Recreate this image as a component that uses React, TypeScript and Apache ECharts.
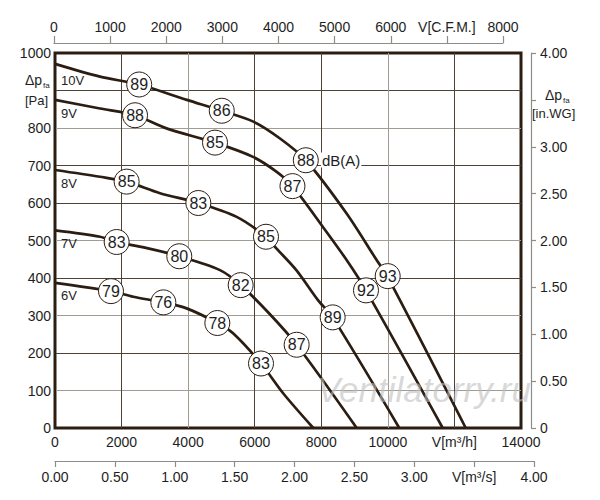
import React, { useEffect, useRef } from 'react';
import * as echarts from 'echarts';

const FONT = '"Liberation Sans", Arial, Helvetica, sans-serif';
const INK = '#2b1d12';
const GRID_DARK = '#4d4136';
const GRID_LIGHT = '#a19b92';
const AXIS_GRAY = '#8f8b86';
const TEXT = '#1e1e1e';

// tick labels (index = tick index)
const flowLabels = ['0', '2000', '4000', '6000', '8000', '10000', 'V[m³/h]', '14000'];
const cfmLabels = ['0', '1000', '2000', '3000', '4000', '5000', '6000', 'V[C.F.M.]', '8000'];
const m3sLabels = ['0.00', '0.50', '1.00', '1.50', '2.00', '2.50', '3.00', 'V[m³/s]', '4.00'];
const paLabels = ['0', '100', '200', '300', '400', '500', '600', '700', '800', '', '1000'];
const inwgLabels = ['0', '0.50', '1.00', '1.50', '2.00', '2.50', '3.00', '', '4.00'];

// fan curves [V m³/h, Δp Pa]
const curve10V = [[0, 971], [1352, 937], [2530, 916], [3960, 875], [5010, 846], [5957, 817], [6760, 772], [7535, 714], [8761, 572], [9662, 448], [9995, 403], [12340, 0]];
const curve9V = [[0, 875], [1352, 852], [2404, 834], [3350, 799], [4807, 761], [5948, 723], [6660, 683], [7134, 645], [8050, 536], [8761, 448], [9343, 367], [11648, 0]];
const curve8V = [[0, 688], [1352, 670], [2152, 657], [3155, 626], [4306, 600], [5457, 563], [6339, 510], [6650, 479], [7250, 421], [7900, 341], [8342, 295], [10343, 0]];
const curve7V = [[0, 527], [1352, 510], [1852, 496], [2700, 481], [3734, 458], [4957, 421], [5578, 381], [6450, 304], [7260, 222], [9064, 0]];
const curve6V = [[0, 387], [1682, 365], [2352, 350], [3255, 335], [3955, 319], [4877, 280], [5358, 252], [6189, 172], [6860, 92], [7760, 0]];

// sound level marks [V m³/h, Δp Pa, dB(A)]
const db10V = [[2530, 916, 89], [5010, 846, 86], [7535, 714, 88], [9995, 405, 93]];
const db9V = [[2404, 834, 88], [4807, 761, 85], [7134, 645, 87], [9343, 367, 92]];
const db8V = [[2152, 657, 85], [4306, 600, 83], [6339, 510, 85], [8342, 295, 89]];
const db7V = [[1852, 496, 83], [3734, 458, 80], [5578, 381, 82], [7260, 222, 87]];
const db6V = [[1682, 365, 79], [3255, 335, 76], [4877, 280, 78], [6189, 172, 83]];

const curves = [curve10V, curve9V, curve8V, curve7V, curve6V];
const dbMarks = [db10V, db9V, db8V, db7V, db6V];
const speedNames = ['10V', '9V', '8V', '7V', '6V'];
const speedLabelY = [80, 113, 183, 243, 295];

const xGridColors = [INK, GRID_DARK, GRID_LIGHT, GRID_DARK, GRID_DARK, GRID_LIGHT, GRID_DARK, INK];
const yGridColors = [INK, GRID_LIGHT, GRID_DARK, GRID_LIGHT, GRID_DARK, GRID_LIGHT, GRID_DARK, GRID_DARK, GRID_LIGHT, GRID_DARK, INK];

const labelStyle = (fontSize: number) => ({ fontSize, color: TEXT, fontFamily: FONT });

const txt = (text: string, x: number, y: number, fontSize: number, extra: any = {}) => ({
  type: 'text',
  x,
  y,
  z: 10,
  style: {
    text,
    fill: TEXT,
    fontSize,
    fontFamily: FONT,
    align: 'left',
    verticalAlign: 'middle',
    textAlign: 'left',
    textVerticalAlign: 'middle',
    ...extra,
  },
});

const App: React.FC = () => {
  const chartRef = useRef<HTMLDivElement | null>(null);

  useEffect(() => {
    let chart: echarts.ECharts | null = null;
    if (chartRef.current) {
      chart = echarts.init(chartRef.current, null, { renderer: 'svg' });

      const option = {
        animation: false,
        backgroundColor: '#fff',
        grid: [
          { left: 55, top: 53, width: 466, height: 375, show: true, borderColor: INK, borderWidth: 3, backgroundColor: 'transparent', outerBoundsMode: 'none' },
          { left: 54, top: 42, width: 449, height: 1, outerBoundsMode: 'none' },
          { left: 55, top: 460, width: 479, height: 1, outerBoundsMode: 'none' },
        ],
        xAxis: [
          {
            gridIndex: 0,
            type: 'value',
            min: 0,
            max: 14000,
            interval: 2000,
            position: 'bottom',
            axisLine: { show: false },
            axisTick: { show: false },
            axisLabel: { ...labelStyle(14), margin: 7, showMinLabel: true, showMaxLabel: true, formatter: (_v: number, i: number) => flowLabels[i] },
            splitLine: { show: true, showMinLine: true, showMaxLine: true, lineStyle: { color: xGridColors, width: 1 } },
          },
          {
            gridIndex: 1,
            type: 'value',
            min: 0,
            max: 8000,
            interval: 1000,
            position: 'top',
            axisLine: { show: true, lineStyle: { color: AXIS_GRAY, width: 1.2 } },
            axisTick: { show: true, length: 7, lineStyle: { color: AXIS_GRAY, width: 1.2 } },
            axisLabel: { ...labelStyle(14), margin: 8, showMinLabel: true, showMaxLabel: true, formatter: (_v: number, i: number) => cfmLabels[i] },
            splitLine: { show: false },
          },
          {
            gridIndex: 2,
            type: 'value',
            min: 0,
            max: 4,
            interval: 0.5,
            position: 'bottom',
            axisLine: { show: true, lineStyle: { color: AXIS_GRAY, width: 1.2 } },
            axisTick: { show: true, length: 6, lineStyle: { color: AXIS_GRAY, width: 1.2 } },
            axisLabel: { ...labelStyle(14), margin: 9, showMinLabel: true, showMaxLabel: true, formatter: (_v: number, i: number) => m3sLabels[i] },
            splitLine: { show: false },
          },
        ],
        yAxis: [
          {
            gridIndex: 0,
            type: 'value',
            min: 0,
            max: 1000,
            interval: 100,
            axisLine: { show: false },
            axisTick: { show: false },
            axisLabel: { ...labelStyle(14), margin: 4, showMinLabel: true, showMaxLabel: true, formatter: (_v: number, i: number) => paLabels[i] },
            splitLine: { show: true, showMinLine: true, showMaxLine: true, lineStyle: { color: yGridColors, width: 1 } },
          },
          {
            gridIndex: 0,
            type: 'value',
            position: 'right',
            offset: 10,
            min: 0,
            max: 4,
            interval: 0.5,
            axisLine: { show: true, lineStyle: { color: AXIS_GRAY, width: 1.2 } },
            axisTick: { show: true, length: 5, lineStyle: { color: AXIS_GRAY, width: 1.2 } },
            axisLabel: { ...labelStyle(14), margin: 9, showMinLabel: true, showMaxLabel: true, formatter: (_v: number, i: number) => inwgLabels[i] },
            splitLine: { show: false },
          },
          { gridIndex: 1, type: 'value', show: false },
          { gridIndex: 2, type: 'value', show: false },
        ],
        series: [
          ...curves.map((pts, i) => ({
            name: speedNames[i],
            type: 'line',
            xAxisIndex: 0,
            yAxisIndex: 0,
            data: pts,
            smooth: 0.3,
            symbol: 'none',
            lineStyle: { color: INK, width: 2.7 },
            z: 3,
          })),
          {
            type: 'scatter',
            xAxisIndex: 0,
            yAxisIndex: 0,
            data: dbMarks.flat(),
            symbol: 'circle',
            symbolSize: 25,
            itemStyle: { color: '#fff', borderColor: INK, borderWidth: 1, opacity: 1 },
            label: {
              show: true,
              position: 'inside',
              ...labelStyle(16),
              formatter: (p: any) => String(p.value[2]),
            },
            z: 5,
          },
        ],
        graphic: [
          txt('Ventilatorry.ru', 317, 389, 35, { fill: 'rgba(190,190,190,0.6)', fontStyle: 'italic' }),
          ...speedNames.map((s, i) => txt(s, 61, speedLabelY[i], 13)),
          txt('Δp', 25, 80, 14),
          txt('fa', 43, 85, 8),
          txt('[Pa]', 25, 100, 13),
          txt('Δp', 545, 95, 14),
          txt('fa', 563, 100, 8),
          txt('[in.WG]', 532, 113, 13),
          txt('dB(A)', 321, 160, 15, { backgroundColor: '#fff', padding: [0, 1] }),
        ],
      };

      chart.setOption(option as any);
    }

    return () => {
      chart?.dispose();
    };
  }, []);

  return (
    <div
      ref={chartRef}
      style={{ position: 'fixed', left: 0, top: 0, width: 600, height: 500, background: '#fff' }}
    ></div>
  );
};

export default App;
